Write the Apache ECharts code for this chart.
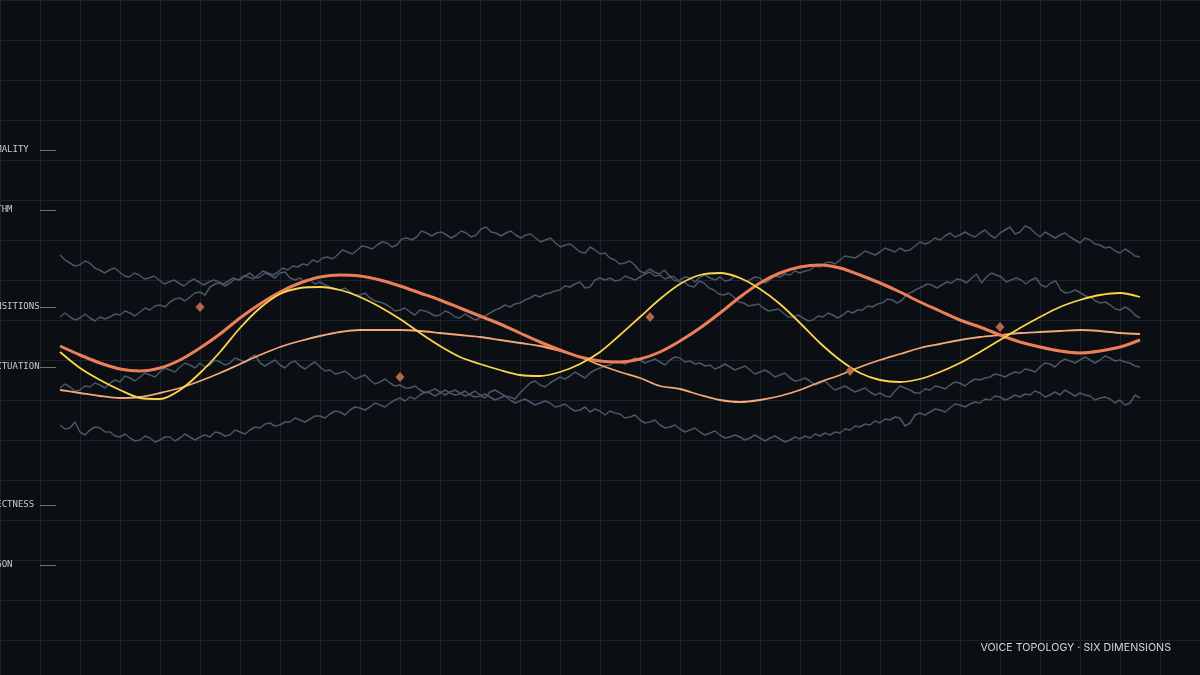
<!DOCTYPE html>
<html>
<head>
<meta charset="utf-8">
<style>
  html, body { margin: 0; padding: 0; background: #0b0e13; }
  #chart { width: 1200px; height: 675px; }
</style>
<script src="https://cdn.jsdelivr.net/npm/echarts@6.0.0/dist/echarts.min.js"></script>
</head>
<body>
<div id="chart"></div>
<script>
// ---- Data (y values are "depth" units on an inverted scale; x is sample index 0..216) ----
const dimensionLabels = ['FORMALITY', 'RHYTHM', 'TRANSITIONS', 'PUNCTUATION', 'DIRECTNESS', 'JARGON'];
const dimensionLevels = [-50, 10, 107, 167, 305, 365];

// noisy background traces (gray)
const trace1 = [55,60,63,66,65,61,63,68,70,73,70,68,72,76,77,73,75,79,78,76,80,84,82,80,83,86,82,79,82,85,82,80,82,84,81,78,80,76,77,79,75,71,73,75,72,68,70,66,67,64,65,60,62,58,57,59,55,50,52,54,50,46,47,49,45,42,43,47,45,39,38,40,37,31,33,36,33,32,35,38,35,31,33,37,35,29,27,32,33,36,33,31,35,38,35,34,38,42,40,38,43,47,45,44,48,52,53,47,50,54,53,58,60,64,63,61,65,71,73,69,72,74,70,76,77,82,82,86,87,81,83,88,90,94,95,93,97,102,103,106,105,104,108,111,110,109,113,117,117,115,118,121,120,116,117,113,115,118,115,111,113,110,110,106,107,104,103,99,100,103,100,94,92,89,87,84,85,88,85,82,83,79,80,83,78,74,83,77,73,75,77,82,80,78,80,84,80,78,85,87,83,81,90,93,92,90,93,96,97,101,103,102,105,109,110,107,110,115,118];
const trace2 = [117,113,117,120,118,114,118,121,117,119,117,114,115,111,113,116,112,108,110,106,105,107,102,99,98,101,97,93,92,95,87,84,83,86,83,79,80,76,73,78,77,73,75,78,73,72,78,80,78,82,80,84,82,85,87,89,90,88,92,95,95,93,98,101,102,104,107,111,110,108,112,115,110,111,113,116,115,111,113,117,118,114,117,120,118,116,113,110,108,105,107,104,103,100,98,95,97,94,93,91,90,86,87,84,82,88,87,80,78,80,78,81,80,76,78,80,77,74,72,76,75,79,77,81,80,77,78,82,77,75,78,80,77,81,80,76,78,81,80,77,78,83,80,76,77,74,75,71,73,71,70,66,67,63,62,64,60,56,57,58,55,51,53,55,52,48,50,52,48,51,50,46,42,44,42,38,40,36,33,37,35,32,35,37,33,30,35,38,33,30,27,34,32,26,28,33,37,32,35,38,35,33,37,40,43,38,40,44,45,48,47,51,53,49,52,56,57];
const trace3 = [188,184,187,191,190,186,187,183,185,188,183,180,182,176,178,181,177,173,175,177,172,168,170,172,167,163,165,168,163,167,165,160,162,165,163,158,160,162,158,155,163,166,163,160,165,168,163,161,166,169,165,162,167,171,170,174,173,171,175,179,177,175,180,184,182,179,183,186,185,188,188,186,190,193,191,189,192,195,192,190,193,196,194,191,195,198,192,190,193,196,197,199,193,188,183,181,185,187,183,180,177,179,176,172,175,178,173,170,168,166,165,161,162,164,161,158,160,163,161,159,162,165,160,157,158,162,161,164,163,166,165,169,167,164,167,170,168,166,170,174,172,170,173,177,175,173,178,181,180,178,181,185,183,181,186,190,188,186,189,192,190,188,192,195,193,196,197,191,186,188,190,193,193,189,190,186,187,189,185,182,183,186,182,179,180,178,177,174,175,177,174,172,173,169,170,172,167,163,164,167,162,159,161,163,160,157,160,163,160,156,158,161,160,162,163,166,167];
const trace4 = [225,229,228,222,232,235,230,227,228,232,232,236,237,234,238,241,240,236,238,242,240,237,237,241,238,234,237,240,237,235,237,232,233,236,235,230,232,234,230,227,228,224,223,226,225,222,222,218,220,222,219,216,216,218,214,211,212,215,210,207,208,210,207,203,205,207,203,200,198,201,197,199,195,192,193,196,193,190,193,195,194,191,195,197,196,194,197,200,198,196,200,203,201,199,202,205,203,201,203,207,206,204,208,211,210,207,212,209,211,215,211,213,214,218,217,215,220,223,222,220,225,228,227,225,229,232,230,228,232,235,233,231,235,238,237,235,237,240,238,235,238,241,238,236,239,242,240,237,239,236,238,234,236,233,235,232,233,229,230,226,227,224,225,221,223,219,220,217,218,226,223,215,213,215,212,209,210,212,208,204,205,207,204,202,203,199,200,196,197,200,198,195,197,194,195,191,193,197,195,192,195,190,193,196,193,195,196,200,198,197,199,203,200,205,203,195,198];

// smooth voice curves, sampled every 4 index steps (0..216)
const coralCurve = [146,155,163,169,171,168,160,148,134,118,104,92,83,77,75,76,80,86,93,100,108,116,124,133,142,150,157,161,162,159,152,141,128,113,97,83,73,67,65,68,75,83,92,102,111,120,127,135,142,147,151,153,151,147,140];
const yellowCurve = [152,168,180,190,198,199,190,173,152,128,108,94,88,87,90,97,107,119,133,146,157,164,170,175,176,172,164,152,135,117,99,84,75,73,78,89,104,123,143,160,173,180,182,179,172,163,152,140,128,117,107,100,95,93,97];
const peachCurve = [190,193,196,198,197,193,188,181,173,164,155,147,141,136,132,130,130,130,131,133,135,137,140,143,146,151,157,165,172,178,186,189,195,200,202,200,196,190,182,175,167,160,154,148,144,140,137,135,133,132,131,130,131,133,134];

// diamond markers
const markerX = [28, 68, 118, 158, 188];
const markerY = [107, 177, 117, 171, 127];

const titleText = 'VOICE TOPOLOGY · SIX DIMENSIONS';

// ---- build series ----
function traceData(arr) {
  const step = 216 / (arr.length - 1);
  return arr.map((v, i) => [i * step, v]);
}
function curveData(arr) {
  return arr.map((v, i) => [i * 4, v]);
}

const grayTraces = [trace1, trace2, trace3, trace4];
const series = grayTraces.map((t) => ({
  type: 'line',
  xAxisIndex: 1, yAxisIndex: 1,
  data: traceData(t),
  symbol: 'none',
  silent: true,
  lineStyle: { color: '#485666', width: 1.5 },
  z: 2
}));

series.push({
  type: 'line', xAxisIndex: 1, yAxisIndex: 1,
  data: curveData(peachCurve), smooth: 0.3, symbol: 'none',
  lineStyle: { color: '#f4a877', width: 1.8 }, z: 3
});
series.push({
  type: 'line', xAxisIndex: 1, yAxisIndex: 1,
  data: curveData(coralCurve), smooth: 0.3, symbol: 'none',
  lineStyle: { color: '#ec7f57', width: 3 }, z: 4
});
series.push({
  type: 'line', xAxisIndex: 1, yAxisIndex: 1,
  data: curveData(yellowCurve), smooth: 0.3, symbol: 'none',
  lineStyle: { color: '#fbd54c', width: 1.8 }, z: 5
});
series.push({
  type: 'scatter', xAxisIndex: 1, yAxisIndex: 1,
  data: markerX.map((x, i) => [x, markerY[i]]),
  symbol: 'diamond', symbolSize: [9, 10],
  itemStyle: { color: '#bd6a4b', opacity: 0.95 }, z: 6
});

const hiddenAxis = {
  axisLine: { show: false }, axisTick: { show: false }, axisLabel: { show: false },
  splitLine: { show: false }
};

const chart = echarts.init(document.getElementById('chart'), null, { renderer: 'canvas' });
chart.setOption({
  animation: false,
  backgroundColor: '#0b0e13',
  title: {
    text: titleText,
    right: 24, top: 637,
    textStyle: { color: '#d4d6da', fontSize: 10.7, fontWeight: 'normal', fontFamily: 'Inter, Liberation Sans, sans-serif' }
  },
  grid: [
    { left: 0, right: 0, top: 0, bottom: 0, containLabel: false, outerBoundsMode: 'none' },
    { left: 60, right: 60, top: 0, bottom: 0, containLabel: false, outerBoundsMode: 'none' },
    { left: 56, right: 60, top: 0, bottom: 0, containLabel: false, outerBoundsMode: 'none' }
  ],
  xAxis: [
    { type: 'value', gridIndex: 0, min: 0, max: 30, interval: 1,
      axisLine: { show: false }, axisTick: { show: false }, axisLabel: { show: false },
      splitLine: { show: true, lineStyle: { color: '#1b2230', width: 1 } } },
    Object.assign({ type: 'value', gridIndex: 1, min: 0, max: 216 }, hiddenAxis),
    Object.assign({ type: 'value', gridIndex: 2, min: 0, max: 216 }, hiddenAxis)
  ],
  yAxis: [
    { type: 'value', gridIndex: 0, inverse: true, min: 0, max: 16.875, interval: 1,
      axisLine: { show: false }, axisTick: { show: false }, axisLabel: { show: false },
      splitLine: { show: true, lineStyle: { color: '#1b2230', width: 1 } } },
    Object.assign({ type: 'value', gridIndex: 1, inverse: true, min: -200, max: 475 }, hiddenAxis),
    { type: 'value', gridIndex: 2, inverse: true, min: -200, max: 475,
      axisLine: { show: false },
      splitLine: { show: false },
      axisTick: { show: true, length: 16, customValues: dimensionLevels,
        lineStyle: { color: '#6e737a', width: 1 } },
      axisLabel: {
        show: true, customValues: dimensionLevels, align: 'left', margin: 76,
        verticalAlign: 'middle', padding: [6, 0, 0, 0],
        color: '#c9ccd0', fontSize: 9, fontFamily: 'DejaVu Sans Mono, monospace',
        formatter: (v) => {
          const i = dimensionLevels.indexOf(Math.round(v));
          return i >= 0 ? dimensionLabels[i] : '';
        }
      }
    }
  ],
  series: series
});
</script>
</body>
</html>
